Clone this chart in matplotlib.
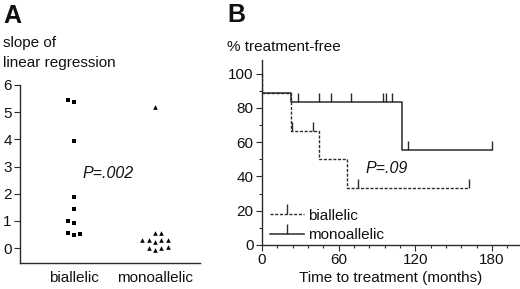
import matplotlib.pyplot as plt
from matplotlib.lines import Line2D
from matplotlib.path import Path
import numpy as np

plt.rcParams['font.family'] = ['Liberation Sans', 'DejaVu Sans']

# panel A: slope of linear regression
groups = ["biallelic", "monoallelic"]
biallelic_slopes = [5.43, 5.37, 3.94, 1.87, 1.44, 0.98, 0.92, 0.55, 0.49, 0.51]
biallelic_jitter = [-1, 0, 0, 0, 0, -1, 0, -1, 0, 1]
monoallelic_slopes = [5.18, 0.55, 0.55, 0.31, 0.29, 0.22, 0.31, 0.31,
                      0.02, -0.07, 0.02, 0.04]
monoallelic_jitter = [0, 0, 1, -2, -1, 0, 1, 2, -1, 0, 1, 2]

# panel B: Kaplan-Meier curves (% treatment-free)
bi_times = [0, 0, 22.5, 45, 66.5, 162]
bi_surv = [100, 88.9, 66.7, 50.0, 33.3, 33.3]
bi_cens_times = [23.5, 40.3, 75.5, 162]
bi_cens_surv = [66.7, 66.7, 33.3, 33.3]

mono_times = [0, 22.5, 109.6, 180]
mono_surv = [88.9, 83.3, 55.6, 55.6]
mono_cens_times = [28, 45, 54.4, 70, 95, 97, 101.7, 114, 180]
mono_cens_surv = [83.3] * 7 + [55.6] * 2

line_col = "#2b2b2b"
txt_col = "#111111"
fs = 11

fig = plt.figure(figsize=(5.2, 2.89), dpi=100)

# ---------- A ----------
axA = fig.add_axes([20 / 520, 1 - 263 / 289, 180 / 520, 178 / 289])
step = 0.079
axA.scatter(np.zeros(len(biallelic_slopes)) + np.array(biallelic_jitter) * step,
            biallelic_slopes, marker="s", s=11, color="black", linewidths=0)
axA.scatter(np.ones(len(monoallelic_slopes)) + np.array(monoallelic_jitter) * step,
            monoallelic_slopes, marker="^", s=11, color="black", linewidths=0)
axA.set_xlim(-0.667, 1.556)
axA.set_ylim(-0.55, 6)
axA.spines["top"].set_visible(False)
axA.spines["right"].set_visible(False)
for s in ["left", "bottom"]:
    axA.spines[s].set_color(line_col)
    axA.spines[s].set_linewidth(1.0)
axA.set_yticks(range(7))
axA.set_xticks([0, 1])
axA.set_xticklabels(groups, fontsize=fs, color=txt_col)
axA.tick_params(axis="x", length=0, pad=6)
axA.tick_params(axis="y", length=4.5, width=0.8, color=line_col,
                labelsize=fs, labelcolor=txt_col, pad=1.5)
axA.text(0.42, 2.73, "P=.002", style="italic", fontsize=11.5,
         ha="center", va="center", color=txt_col)

fig.text(3 / 520, 1 - 16 / 289, "A", fontsize=18, fontweight="bold",
         va="center", ha="left", color=txt_col)
fig.text(3 / 520, 1 - 43 / 289, "slope of", fontsize=fs,
         va="center", ha="left", color=txt_col)
fig.text(3 / 520, 1 - 63 / 289, "linear regression", fontsize=fs,
         va="center", ha="left", color=txt_col)

# ---------- B ----------
axB = fig.add_axes([262 / 520, 1 - 245 / 289, 258 / 520, 185 / 289])
tick_path = Path([(0, 0), (0, 1)])
dash = (0, (2.2, 1.2))

axB.step(bi_times, bi_surv, where="post", color=line_col, lw=1.0,
         linestyle=dash)
axB.step(mono_times, mono_surv, where="post", color=line_col, lw=1.1)
axB.plot(bi_cens_times, bi_cens_surv, linestyle="none", marker=tick_path,
         markersize=13, markeredgewidth=1.0, color=line_col)
axB.plot(mono_cens_times, mono_cens_surv, linestyle="none", marker=tick_path,
         markersize=13, markeredgewidth=1.0, color=line_col)

axB.set_xlim(0, 202)
axB.set_ylim(0, 108)
axB.spines["top"].set_visible(False)
axB.spines["right"].set_visible(False)
for s in ["left", "bottom"]:
    axB.spines[s].set_color(line_col)
    axB.spines[s].set_linewidth(1.0)
axB.set_xticks([0, 60, 120, 180])
axB.set_xticks(np.arange(0, 202, 12), minor=True)
axB.set_yticks([0, 20, 40, 60, 80, 100])
axB.set_yticks(np.arange(0, 105, 10), minor=True)
axB.tick_params(which="major", length=4.5, width=0.8, color=line_col,
                labelsize=fs, labelcolor=txt_col, pad=1.5)
axB.tick_params(which="minor", length=2.5, width=0.8, color=line_col)
axB.set_xlabel("Time to treatment (months)", fontsize=fs, color=txt_col,
               labelpad=2.5)
axB.text(97.6, 44.4, "P=.09", style="italic", fontsize=11.5,
         ha="center", va="center", color=txt_col)

handles = [
    Line2D([], [], color=line_col, lw=1.0, linestyle=dash, marker=tick_path,
           markersize=14, markeredgewidth=1.0),
    Line2D([], [], color=line_col, lw=1.1, marker=tick_path,
           markersize=14, markeredgewidth=1.0),
]
axB.legend(handles, groups, loc="lower left", bbox_to_anchor=(0.02, 0.0),
           frameon=False, fontsize=fs, handlelength=2.2, handletextpad=0.25,
           labelspacing=0.35, borderpad=0.2, borderaxespad=0, numpoints=1,
           labelcolor=txt_col)

fig.text(227 / 520, 1 - 15 / 289, "B", fontsize=18, fontweight="bold",
         va="center", ha="left", color=txt_col)
fig.text(227 / 520, 1 - 47 / 289, "% treatment-free", fontsize=fs,
         va="center", ha="left", color=txt_col)

fig.savefig("out.png", dpi=100)
